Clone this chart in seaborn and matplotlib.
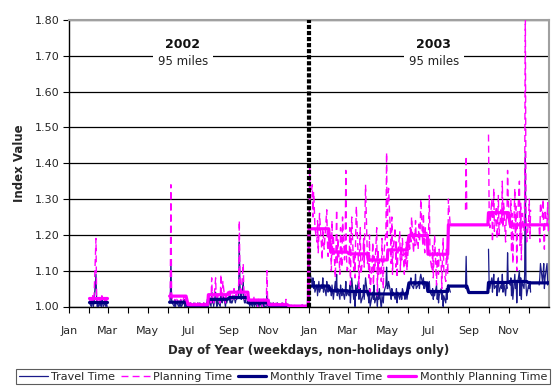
import numpy as np
import pandas as pd
import matplotlib
matplotlib.use("Agg")
import matplotlib.pyplot as plt
import matplotlib.dates as mdates
from matplotlib.lines import Line2D
import seaborn as sns

# ---------------- data ----------------
month_labels = ["Jan", "", "Mar", "", "May", "", "Jul", "", "Sep", "", "Nov", ""]
N = None

monthly_travel_2002 = [N, 1.013, N, N, N, 1.012, 1.003, 1.020, 1.025, 1.010, 1.003, 1.000]
monthly_planning_2002 = [N, 1.024, N, N, N, 1.029, 1.005, 1.033, 1.040, 1.018, 1.005, 1.001]
monthly_travel_2003 = [1.057, 1.044, 1.042, 1.035, 1.035, 1.066, 1.042, 1.057, 1.039, 1.067, 1.070, 1.066]
monthly_planning_2003 = [1.217, 1.152, 1.147, 1.130, 1.158, 1.198, 1.146, 1.228, 1.228, 1.262, 1.228, 1.228]

travel_2002 = [
    [],
    [1.01, 1.00, 1.01, 1.02, 1.00, 1.01, 1.09, 1.02, 1.00, 1.01, 1.00, 1.01, 1.00, 1.02, 1.01, 1.00, 1.01, 1.00, 1.01, 1.00],
    [], [], [],
    [1.01, 1.02, 1.13, 1.02, 1.01, 1.00, 1.01, 1.00, 1.01, 1.01, 1.00, 1.01, 1.00, 1.01, 1.00, 1.01, 1.02, 1.00, 1.01, 1.00],
    [1.00, 1.01, 1.00, 1.00, 1.01, 1.00, 1.00, 1.01, 1.00, 1.00, 1.00, 1.01, 1.00, 1.00, 1.01, 1.00, 1.00, 1.00, 1.01, 1.00, 1.00, 1.01, 1.00],
    [1.01, 1.02, 1.00, 1.04, 1.01, 1.02, 1.00, 1.04, 1.01, 1.00, 1.02, 1.01, 1.00, 1.05, 1.02, 1.01, 1.03, 1.01, 1.00, 1.02, 1.01, 1.02],
    [1.02, 1.01, 1.02, 1.01, 1.01, 1.03, 1.02, 1.01, 1.02, 1.02, 1.03, 1.18, 1.06, 1.03, 1.02, 1.07, 1.02, 1.01, 1.02, 1.01, 1.01],
    [1.01, 1.01, 1.00, 1.01, 1.00, 1.01, 1.02, 1.00, 1.01, 1.00, 1.00, 1.01, 1.00, 1.01, 1.00, 1.00, 1.00, 1.01, 1.00, 1.00, 1.03, 1.01, 1.00],
    [1.00, 1.01, 1.00, 1.00, 1.00, 1.01, 1.00, 1.00, 1.00, 1.01, 1.00, 1.00, 1.00, 1.00, 1.01, 1.00, 1.00, 1.00, 1.01, 1.00, 1.00],
    [1.00, 1.00, 1.00, 1.00, 1.00, 1.00, 1.00, 1.00, 1.00, 1.00, 1.00, 1.00, 1.00, 1.00, 1.00, 1.00, 1.00, 1.00, 1.00, 1.00, 1.00, 1.00],
]

planning_2002 = [
    [],
    [1.02, 1.01, 1.02, 1.03, 1.01, 1.02, 1.19, 1.03, 1.01, 1.02, 1.01, 1.02, 1.01, 1.03, 1.02, 1.01, 1.02, 1.01, 1.02, 1.01],
    [], [], [],
    [1.02, 1.04, 1.34, 1.04, 1.02, 1.01, 1.02, 1.01, 1.02, 1.02, 1.01, 1.02, 1.01, 1.02, 1.01, 1.02, 1.03, 1.01, 1.02, 1.01],
    [1.01, 1.00, 1.01, 1.00, 1.01, 1.00, 1.01, 1.00, 1.00, 1.01, 1.00, 1.01, 1.00, 1.01, 1.00, 1.00, 1.01, 1.00, 1.01, 1.00, 1.01, 1.00, 1.01],
    [1.02, 1.03, 1.01, 1.08, 1.02, 1.03, 1.01, 1.08, 1.02, 1.01, 1.03, 1.02, 1.01, 1.09, 1.03, 1.02, 1.07, 1.02, 1.01, 1.03, 1.02, 1.04],
    [1.03, 1.02, 1.04, 1.03, 1.02, 1.05, 1.03, 1.02, 1.04, 1.03, 1.06, 1.24, 1.08, 1.05, 1.04, 1.12, 1.03, 1.02, 1.04, 1.03, 1.02],
    [1.02, 1.03, 1.01, 1.02, 1.01, 1.02, 1.03, 1.01, 1.02, 1.01, 1.00, 1.02, 1.01, 1.02, 1.01, 1.00, 1.01, 1.02, 1.01, 1.00, 1.10, 1.02, 1.01],
    [1.01, 1.00, 1.01, 1.00, 1.01, 1.00, 1.00, 1.01, 1.00, 1.01, 1.00, 1.00, 1.01, 1.00, 1.00, 1.01, 1.00, 1.00, 1.02, 1.00, 1.00],
    [1.00, 1.00, 1.01, 1.00, 1.00, 1.00, 1.00, 1.01, 1.00, 1.00, 1.00, 1.00, 1.00, 1.00, 1.01, 1.00, 1.00, 1.00, 1.00, 1.00, 1.00, 1.00],
]

travel_2003 = [
    [1.07, 1.11, 1.09, 1.06, 1.08, 1.05, 1.07, 1.04, 1.06, 1.03, 1.05, 1.07, 1.04, 1.06, 1.05, 1.08, 1.04, 1.06, 1.03, 1.07, 1.05, 1.04, 1.06],
    [1.05, 1.03, 1.06, 1.04, 1.02, 1.07, 1.04, 1.09, 1.03, 1.05, 1.02, 1.06, 1.04, 1.03, 1.05, 1.02, 1.04, 1.07, 1.03, 1.04],
    [1.03, 1.06, 1.01, 1.05, 1.08, 1.02, 1.04, 1.00, 1.06, 1.03, 1.07, 1.02, 1.04, 1.05, 1.01, 1.03, 1.06, 1.02, 1.05, 1.08, 1.03],
    [1.03, 1.01, 1.05, 1.00, 1.03, 1.04, 1.02, 1.06, 1.01, 1.03, 1.00, 1.04, 1.02, 1.05, 0.99, 1.03, 1.02, 1.01, 1.04, 1.06, 1.11, 1.05],
    [1.05, 1.07, 1.04, 1.02, 1.05, 1.03, 1.04, 1.02, 1.03, 1.05, 1.01, 1.04, 1.02, 1.03, 1.04, 1.02, 1.05, 1.03, 1.02, 1.04, 1.03, 1.02],
    [1.06, 1.05, 1.07, 1.08, 1.06, 1.05, 1.07, 1.06, 1.09, 1.05, 1.06, 1.07, 1.05, 1.08, 1.09, 1.06, 1.08, 1.05, 1.07, 1.06, 1.04],
    [1.05, 1.06, 1.07, 1.04, 1.03, 1.05, 1.02, 1.04, 1.03, 1.06, 1.02, 1.04, 1.01, 1.03, 1.05, 1.02, 1.04, 1.00, 1.03, 1.01, 1.05, 1.02, 1.06],
    [1.06, 1.04, N, N, N, N, N, N, N, N, N, N, N, N, N, N, N, N, 1.05, 1.14, 1.05],
    [],
    [1.16, 1.06, 1.05, 1.08, 1.04, 1.07, 1.09, 1.05, 1.06, 1.03, 1.07, 1.08, 1.04, 1.06, 1.05, 1.09, 1.04, 1.07, 1.03, 1.06, 1.05, 1.15, 1.07],
    [1.06, 1.08, 1.03, 1.07, 1.02, 1.09, 1.05, 1.07, 1.01, 1.06, 1.10, 1.03, 1.08, 1.02, 1.07, 1.05, 1.09, 1.43, 1.06, 1.03],
    [1.06, 1.05, 1.07, 1.04, N, N, N, N, N, N, N, N, 1.06, 1.08, 1.12, 1.07, 1.09, 1.12, 1.05, 1.08, 1.12, 1.06, 1.07],
]

planning_2003 = [
    [1.20, 1.39, 1.30, 1.34, 1.25, 1.32, 1.28, 1.22, 1.18, 1.24, 1.15, 1.20, 1.26, 1.17, 1.13, 1.22, 1.19, 1.16, 1.24, 1.27, 1.18, 1.14, 1.21],
    [1.18, 1.10, 1.24, 1.14, 1.20, 1.08, 1.16, 1.27, 1.12, 1.19, 1.09, 1.22, 1.15, 1.11, 1.25, 1.13, 1.17, 1.38, 1.14, 1.10],
    [1.12, 1.22, 1.06, 1.18, 1.25, 1.10, 1.15, 1.08, 1.20, 1.28, 1.13, 1.05, 1.17, 1.22, 1.09, 1.14, 1.19, 1.11, 1.24, 1.34, 1.12],
    [1.15, 1.08, 1.20, 1.04, 1.12, 1.18, 1.06, 1.14, 1.10, 1.22, 1.03, 1.16, 1.09, 1.13, 1.07, 1.19, 1.11, 1.05, 1.15, 1.21, 1.43, 1.17],
    [1.30, 1.33, 1.20, 1.12, 1.25, 1.09, 1.16, 1.22, 1.11, 1.18, 1.08, 1.14, 1.21, 1.10, 1.17, 1.13, 1.19, 1.09, 1.15, 1.12, 1.18, 1.10],
    [1.20, 1.16, 1.22, 1.18, 1.25, 1.15, 1.21, 1.17, 1.24, 1.19, 1.16, 1.23, 1.18, 1.21, 1.30, 1.17, 1.26, 1.19, 1.15, 1.22, 1.20],
    [1.18, 1.22, 1.31, 1.14, 1.10, 1.17, 1.08, 1.13, 1.20, 1.06, 1.15, 1.11, 1.09, 1.16, 1.12, 1.05, 1.14, 1.19, 1.10, 1.07, 1.16, 1.12, 1.09],
    [1.30, 1.22, N, N, N, N, N, N, N, N, N, N, N, N, N, N, N, N, 1.27, 1.42, 1.26],
    [],
    [1.48, 1.26, 1.22, 1.30, 1.18, 1.25, 1.33, 1.21, 1.28, 1.19, 1.24, 1.31, 1.20, 1.27, 1.23, 1.35, 1.22, 1.29, 1.18, 1.26, 1.24, 1.38, 1.30],
    [1.22, 1.30, 1.15, 1.26, 1.12, 1.33, 1.20, 1.28, 1.10, 1.24, 1.35, 1.17, 1.29, 1.13, 1.26, 1.21, 1.30, 1.85, 1.25, 1.18],
    [1.24, 1.30, 1.19, 1.27, N, N, N, N, N, N, N, N, 1.22, 1.18, 1.29, 1.25, 1.30, 1.20, 1.16, 1.27, 1.23, 1.29, 1.21],
]

y_ticks = [1.00, 1.10, 1.20, 1.30, 1.40, 1.50, 1.60, 1.70, 1.80]

# ---------------- assemble frame ----------------
bdays = pd.bdate_range("2002-01-01", "2003-12-31")
df = pd.DataFrame({"date": bdays})


def daily(nested_by_year):
    out = []
    for year, nested in nested_by_year:
        for m in range(12):
            n = int(((bdays.year == year) & (bdays.month == m + 1)).sum())
            vals = list(nested[m])[:n]
            vals += [None] * (n - len(vals))
            out += vals
    return np.array([np.nan if v is None else v for v in out], dtype=float)


def monthly(per_year):
    out = []
    for d in bdays:
        v = per_year[d.year][d.month - 1]
        out.append(np.nan if v is None else v)
    return np.array(out, dtype=float)


df["travel"] = daily([(2002, travel_2002), (2003, travel_2003)])
df["planning"] = daily([(2002, planning_2002), (2003, planning_2003)])
df["m_travel"] = monthly({2002: monthly_travel_2002, 2003: monthly_travel_2003})
df["m_planning"] = monthly({2002: monthly_planning_2002, 2003: monthly_planning_2003})

# ---------------- plot ----------------
sns.set_theme(style="white")
plt.rcParams["font.family"] = ["DejaVu Sans"]

fig = plt.figure(figsize=(5.56, 3.87), dpi=100)
ax = fig.add_axes([69 / 556, 1 - 306.5 / 387, 480 / 556, 286.5 / 387])

NAVY = "#000080"
MAG = "#FF00FF"

series_styles = [
    ("travel", dict(color="#1a1a8a", linewidth=0.9, linestyle="-"), 3),
    ("planning", dict(color=MAG, linewidth=1.0, linestyle=(0, (5, 3))), 4),
    ("m_travel", dict(color=NAVY, linewidth=2.3, linestyle="-"), 5),
    ("m_planning", dict(color=MAG, linewidth=2.3, linestyle="-"), 6),
]
for col, st, z in series_styles:
    sub = df[["date", col]].copy()
    sub["seg"] = sub[col].isna().cumsum()
    sub = sub.dropna()
    sns.lineplot(data=sub, x="date", y=col, units="seg", estimator=None,
                 sort=False, legend=False, ax=ax, zorder=z, **st)

x0 = pd.Timestamp("2002-01-01")
x1 = pd.Timestamp("2004-01-01")
ax.set_xlim(x0, x1)
ax.set_ylim(1.0, 1.8)

# gridlines
ax.set_yticks(y_ticks)
ax.set_yticklabels([f"{v:.2f}" for v in y_ticks], fontsize=8)
ax.yaxis.grid(True, color="#000000", linewidth=0.9)
ax.xaxis.grid(False)
ax.set_axisbelow(True)

month_starts = pd.date_range("2002-01-01", "2003-12-01", freq="MS")
ax.set_xticks(month_starts)
ax.set_xticklabels(month_labels * 2, fontsize=8)
ax.tick_params(axis="both", direction="out", length=4, width=0.8, color="black",
               bottom=True, left=True, pad=3)
ax.tick_params(axis="x", pad=10)

for s in ["left", "bottom"]:
    ax.spines[s].set_color("black")
    ax.spines[s].set_linewidth(1.0)
for s in ["top", "right"]:
    ax.spines[s].set_color("#A0A0A0")
    ax.spines[s].set_linewidth(1.5)

# year divider
ax.axvline(pd.Timestamp("2003-01-01"), color="black", linewidth=3,
           linestyle=(0, (1, 0.45)), zorder=7)

# annotations
for label, xc in [("2002", pd.Timestamp("2002-06-23")), ("2003", pd.Timestamp("2003-07-10"))]:
    ax.text(xc, 1.684, "95 miles", ha="center", va="center", fontsize=8.5,
            color="#222222", zorder=8,
            bbox=dict(facecolor="white", edgecolor="none", pad=3.5))
    ax.text(xc, 1.731, label, ha="center", va="center", fontsize=9,
            fontweight="bold", color="#111111", zorder=8)

ax.set_xlabel("Day of Year (weekdays, non-holidays only)", fontsize=8.5,
              fontweight="bold", labelpad=6)
ax.set_ylabel("Index Value", fontsize=8.5, fontweight="bold", labelpad=6)

handles = [
    Line2D([], [], color="#1a1a8a", linewidth=0.9),
    Line2D([], [], color=MAG, linewidth=1.0, linestyle=(0, (5, 3))),
    Line2D([], [], color=NAVY, linewidth=2.3),
    Line2D([], [], color=MAG, linewidth=2.3),
]
labels = ["Travel Time", "Planning Time", "Monthly Travel Time", "Monthly Planning Time"]
leg = fig.legend(handles, labels, loc="center", bbox_to_anchor=(283 / 556, 1 - 376.5 / 387),
                 ncol=4, fontsize=8, frameon=True, fancybox=False, edgecolor="#333333",
                 handlelength=2.6, handletextpad=0.3, columnspacing=0.5,
                 borderpad=0.25, borderaxespad=0)
leg.get_frame().set_linewidth(0.8)

fig.savefig("out.png", dpi=100)
